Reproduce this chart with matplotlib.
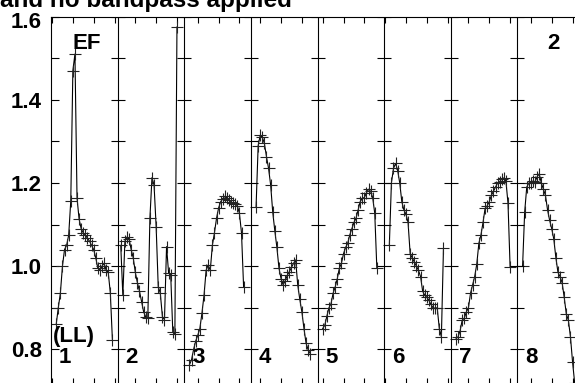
import matplotlib
matplotlib.use("Agg")
import matplotlib.pyplot as plt
import matplotlib.transforms as mtransforms
import numpy as np

plt.rcParams['font.family'] = ['Liberation Sans', 'DejaVu Sans']

# ---- data: 8 segments of 32 samples ----
seg_len = 32
seg_start = [2, 1, 2, 2, 2, 2, 2, 2]   # first sample index inside each segment
seg1 = [0.86, 0.90, 0.935, 1.00, 1.04, 1.05, 1.075, 1.157, 1.47, 1.51, 1.164, 1.113, 1.09, 1.08,
        1.075, 1.067, 1.06, 1.05, 1.04, 1.02, 0.995, 0.99, 1.00, 1.007, 0.99, 0.985, 0.935, 0.822]
seg2 = [1.05, 0.93, 1.06, 1.07, 1.065, 1.04, 1.02, 0.985, 0.96, 0.94, 0.915, 0.89, 0.878, 0.875,
        1.115, 1.213, 1.195, 1.095, 0.951, 0.935, 0.879, 0.871, 1.047, 0.983, 0.979, 0.842, 0.838, 1.575]
seg3 = [0.763, 0.775, 0.80, 0.82, 0.834, 0.85, 0.887, 0.93, 0.99, 1.003, 0.99, 1.05, 1.08, 1.115,
        1.14, 1.155, 1.162, 1.168, 1.165, 1.16, 1.155, 1.151, 1.15, 1.145, 1.127, 1.08, 0.951]
seg4 = [1.143, 1.29, 1.315, 1.31, 1.295, 1.263, 1.235, 1.195, 1.13, 1.085, 1.045, 0.995, 0.97, 0.955,
        0.965, 0.978, 0.987, 0.997, 1.007, 1.015, 0.955, 0.92, 0.89, 0.85, 0.815, 0.799, 0.79]
seg5 = [0.85, 0.858, 0.88, 0.90, 0.91, 0.935, 0.95, 0.97, 0.995, 1.007, 1.03, 1.045, 1.055, 1.075,
        1.09, 1.105, 1.115, 1.135, 1.155, 1.163, 1.165, 1.176, 1.185, 1.18, 1.165, 1.127, 0.995]
seg6 = [1.05, 1.2, 1.235, 1.247, 1.23, 1.2, 1.155, 1.135, 1.125, 1.105, 1.03, 1.02, 1.01, 1.0,
        0.99, 0.975, 0.94, 0.93, 0.925, 0.918, 0.908, 0.90, 0.899, 0.90, 0.85, 0.83, 1.043]
seg7 = [0.825, 0.83, 0.845, 0.87, 0.875, 0.89, 0.90, 0.935, 0.955, 0.975, 1.005, 1.055, 1.075, 1.105,
        1.139, 1.145, 1.155, 1.17, 1.18, 1.19, 1.20, 1.203, 1.21, 1.212, 1.205, 1.151, 0.999]
seg8 = [1.0, 1.13, 1.19, 1.2, 1.2, 1.205, 1.203, 1.215, 1.222, 1.2, 1.185, 1.17, 1.135, 1.11,
        1.09, 1.065, 1.02, 0.985, 0.975, 0.96, 0.925, 0.885, 0.87, 0.83, 0.77, 0.72]
segments = [seg1, seg2, seg3, seg4, seg5, seg6, seg7, seg8]
seg_labels = ['1', '2', '3', '4', '5', '6', '7', '8']
yticks_major = [0.8, 1.0, 1.2, 1.4, 1.6]
yticks_all = [0.8, 0.9, 1.0, 1.1, 1.2, 1.3, 1.4, 1.5, 1.6]
title_text = "and no bandpass applied"

# ---- figure ----
W, H = 575, 383
fig = plt.figure(figsize=(W / 100, H / 100), dpi=100)
left_px, right_px, top_px, bot_px = 51, 584, 16.6, 384.3
ax = fig.add_axes([left_px / W, 1 - bot_px / H, (right_px - left_px) / W, (bot_px - top_px) / H])
ax.set_xlim(-0.5, 8 * seg_len - 0.5)
ax.set_ylim(0.716, 1.6)

for k, vals in enumerate(segments):
    xs = k * seg_len + seg_start[k] + np.arange(len(vals))
    ax.plot(xs, vals, color='black', lw=0.8, marker='+', ms=8.5, mew=0.8, mec='#222222')

# segment separators with crossing ticks
for k in range(1, 8):
    sx = k * seg_len - 0.5
    ax.axvline(sx, color='black', lw=0.8)
    ax.plot([sx] * len(yticks_all), yticks_all, ls='none', marker='_', ms=10, mew=0.8, color='black')

# segment numbers
for k, lab in enumerate(seg_labels):
    ax.text(k * seg_len + 3.3, 0.768, lab, fontsize=16, weight='bold', ha='left', va='baseline')

ax.text(0.4, 0.818, '(LL)', fontsize=16, weight='bold', ha='left', va='baseline')
ax.text(10.0, 1.522, 'EF', fontsize=16, weight='bold', ha='left', va='baseline')
ax.text(238.0, 1.522, '2', fontsize=16, weight='bold', ha='left', va='baseline')

# axes decoration
ax.set_yticks(yticks_major)
ax.set_yticklabels([f"{v:.1f}" for v in yticks_major], fontsize=16, weight='bold')
ax.set_yticks(yticks_all, minor=True)
ax.set_xticks(np.arange(0, 8 * seg_len, 10))
ax.tick_params(axis='y', which='both', direction='in', length=5.8, width=0.8, right=False, pad=6.5)
ax.tick_params(axis='x', which='both', direction='in', length=4.6, width=0.8, top=True, bottom=True,
               labelbottom=False)
for s in ax.spines.values():
    s.set_linewidth(0.8)

# the top label sits a little lower, clear of the title
top_lab = ax.get_yticklabels()[-1]
top_lab.set_transform(top_lab.get_transform() +
                      mtransforms.ScaledTranslation(0, -3 / 100, fig.dpi_scale_trans))

fig.text(0.0, 1 - 7.5 / H, title_text, ha='left', va='baseline', fontsize=17.5, weight='bold')

fig.savefig('out.png', dpi=100)
